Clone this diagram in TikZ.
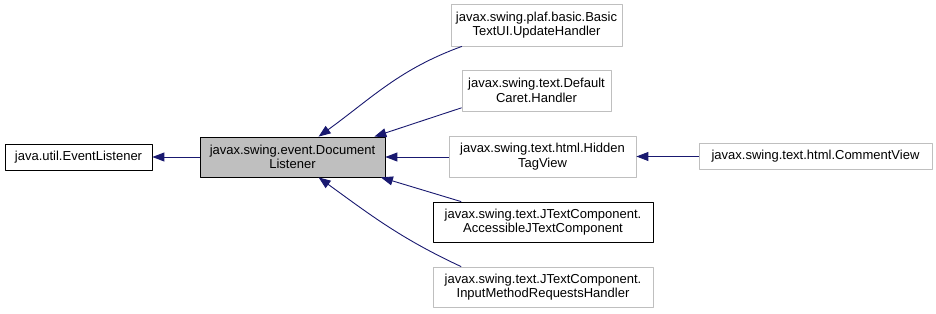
\documentclass[tikz,border=0pt]{standalone}
\usepackage{fontspec}
\setmainfont{Liberation Sans}
\usetikzlibrary{arrows.meta, positioning}

\definecolor{edgeblue}{HTML}{191970}
\definecolor{paleframe}{HTML}{BFBFBF}
\definecolor{curfill}{HTML}{BFBFBF}

\begin{document}
\begin{tikzpicture}[x=1pt, y=1pt, >={Triangle[length=12pt, width=9pt]}, line join=round]
	\tikzset{
		cls/.style={draw=black, fill=white, align=center, inner sep=0pt, line width=0.8pt,
			font=\fontsize{13}{14.5}\selectfont},
		extcls/.style={cls, draw=paleframe},
		curcls/.style={cls, fill=curfill},
		inh/.style={<-, draw=edgeblue, line width=0.9pt}
	}
	
	\useasboundingbox (0,0) rectangle (936,-313);
	
	% base interface and the listener itself
	\node[cls, minimum width=147pt, minimum height=26pt] (evl) at (78.5,-157) {java.util.EventListener};
	\node[curcls, minimum width=185pt, minimum height=40pt] (doc) at (292.5,-157) {javax.swing.event.Document\\Listener};
	
	% implementing classes
	\node[extcls, minimum width=171pt, minimum height=42pt] (basic) at (536.5,-25) {javax.swing.plaf.basic.Basic\\TextUI.UpdateHandler};
	\node[extcls, minimum width=149pt, minimum height=41pt] (caret) at (536.5,-90.5) {javax.swing.text.Default\\Caret.Handler};
	\node[extcls, minimum width=187pt, minimum height=41pt] (hidden) at (542.5,-156.5) {javax.swing.text.html.Hidden\\TagView};
	\node[extcls, minimum width=233pt, minimum height=26pt] (comment) at (815.5,-156.5) {javax.swing.text.html.CommentView};
	\node[cls, minimum width=220pt, minimum height=40pt] (acc) at (543,-222) {javax.swing.text.JTextComponent.\\AccessibleJTextComponent};
	\node[extcls, minimum width=220pt, minimum height=40pt] (input) at (543,-287) {javax.swing.text.JTextComponent.\\InputMethodRequestsHandler};
	
	\draw[inh] (evl.east) -- (evl.east -| doc.west);
	\draw[inh] (doc.38) to[out=36, in=200] (basic.196);
	\draw[inh] (doc.14) -- (caret.193);
	\draw[inh] (doc.east) -- (doc.east -| hidden.west);
	\draw[inh] (doc.-13) -- (acc.166);
	\draw[inh] (doc.-38) to[out=-36, in=155] (input.166);
	\draw[inh] (hidden.east) -- (comment.west);
\end{tikzpicture}
\end{document}
